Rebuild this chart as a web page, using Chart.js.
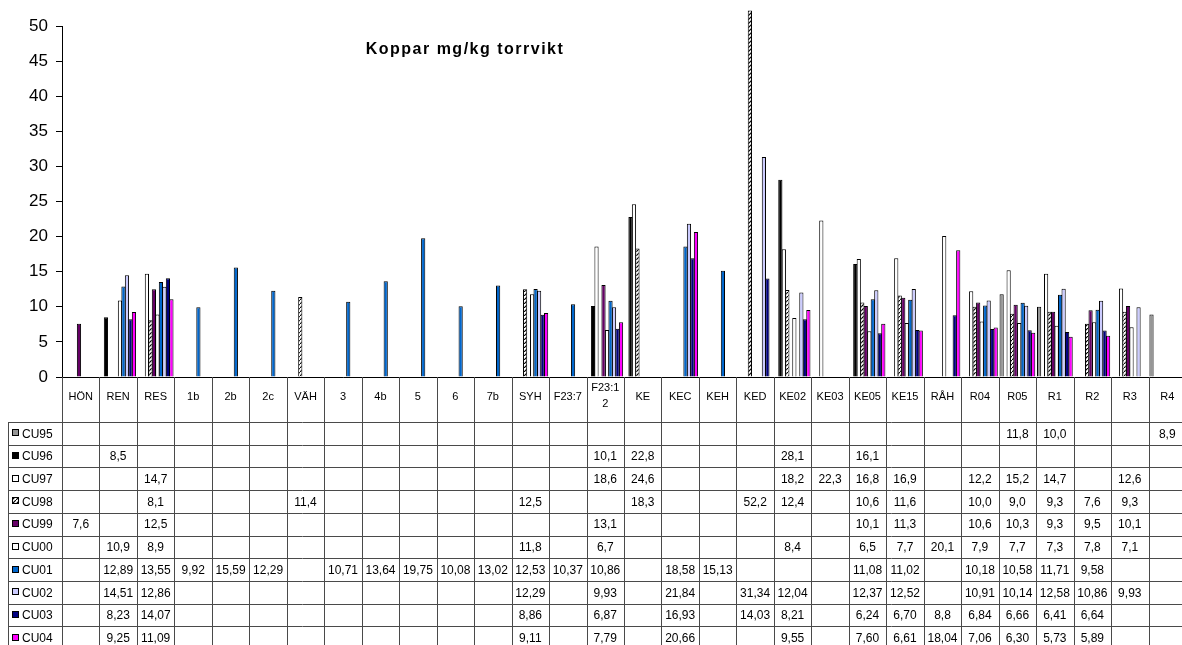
<!DOCTYPE html>
<html>
<head>
<meta charset="utf-8">
<script src="https://cdn.jsdelivr.net/npm/chart.js@4/dist/chart.umd.min.js"></script>
<style>
  html, body { margin: 0; padding: 0; overflow: hidden; background: #fff; }
  #wrap { width: 1186px; height: 645px; }
</style>
</head>
<body>
<div id="wrap"><canvas id="koppar"></canvas></div>
<script>
var _ = null;

// provplatser (kategorier)
var platser = ['HÖN','REN','RES','1b','2b','2c','VÄH','3','4b','5','6','7b','SYH','F23:7','F23:12',
               'KE','KEC','KEH','KED','KE02','KE03','KE05','KE15','RÅH','R04','R05','R1','R2','R3','R4'];

var serieNamn = ['CU95','CU96','CU97','CU98','CU99','CU00','CU01','CU02','CU03','CU04'];

// koppar mg/kg torrvikt, ett värde per plats
var cu95 = [_,_,_,_,_,_,_,_,_,_, _,_,_,_,_,_,_,_,_,_, _,_,_,_,_,11.8,10.0,_,_,8.9];
var cu96 = [_,8.5,_,_,_,_,_,_,_,_, _,_,_,_,10.1,22.8,_,_,_,28.1, _,16.1,_,_,_,_,_,_,_,_];
var cu97 = [_,_,14.7,_,_,_,_,_,_,_, _,_,_,_,18.6,24.6,_,_,_,18.2, 22.3,16.8,16.9,_,12.2,15.2,14.7,_,12.6,_];
var cu98 = [_,_,8.1,_,_,_,11.4,_,_,_, _,_,12.5,_,_,18.3,_,_,52.2,12.4, _,10.6,11.6,_,10.0,9.0,9.3,7.6,9.3,_];
var cu99 = [7.6,_,12.5,_,_,_,_,_,_,_, _,_,_,_,13.1,_,_,_,_,_, _,10.1,11.3,_,10.6,10.3,9.3,9.5,10.1,_];
var cu00 = [_,10.9,8.9,_,_,_,_,_,_,_, _,_,11.8,_,6.7,_,_,_,_,8.4, _,6.5,7.7,20.1,7.9,7.7,7.3,7.8,7.1,_];
var cu01 = [_,12.89,13.55,9.92,15.59,12.29,_,10.71,13.64,19.75, 10.08,13.02,12.53,10.37,10.86,_,18.58,15.13,_,_, _,11.08,11.02,_,10.18,10.58,11.71,9.58,_,_];
var cu02 = [_,14.51,12.86,_,_,_,_,_,_,_, _,_,12.29,_,9.93,_,21.84,_,31.34,12.04, _,12.37,12.52,_,10.91,10.14,12.58,10.86,9.93,_];
var cu03 = [_,8.23,14.07,_,_,_,_,_,_,_, _,_,8.86,_,6.87,_,16.93,_,14.03,8.21, _,6.24,6.70,8.8,6.84,6.66,6.41,6.64,_,_];
var cu04 = [_,9.25,11.09,_,_,_,_,_,_,_, _,_,9.11,_,7.79,_,20.66,_,_,9.55, _,7.60,6.61,18.04,7.06,6.30,5.73,5.89,_,_];

var serier = [cu95, cu96, cu97, cu98, cu99, cu00, cu01, cu02, cu03, cu04];

// antal decimaler i tabellen per serie, plus enstaka undantag
var decimaler = [1,1,1,1,1,1,2,2,2,2];
var undantag = { 'CU03|RÅH': 1 };

var ctx = document.getElementById('koppar').getContext('2d');

function randig() {
  var c = document.createElement('canvas');
  c.width = 4; c.height = 4;
  var g = c.getContext('2d');
  g.fillStyle = '#fff';
  g.fillRect(0, 0, 4, 4);
  g.strokeStyle = '#000';
  g.lineWidth = 1.2;
  g.beginPath(); g.moveTo(-1, 5); g.lineTo(5, -1); g.stroke();
  return ctx.createPattern(c, 'repeat');
}

var farger = ['#969696', '#000000', '#ffffff', randig(), '#660066', '#ffffff',
              '#0066cc', '#ccccff', '#000080', '#ff00ff'];

var FONT = "'Liberation Sans', Arial, sans-serif";

function formatera(v, s, p) {
  var d = undantag[serieNamn[s] + '|' + platser[p]];
  if (d == null) d = decimaler[s];
  return v.toFixed(d).replace('.', ',');
}

// radbryt kategorinamn som inte ryms i cellen
function bryt(c, text, max) {
  if (c.measureText(text).width <= max) return [text];
  var i = text.length - 1;
  while (i > 1 && c.measureText(text.slice(0, i)).width > max) i--;
  return [text.slice(0, i), text.slice(i)];
}

var tabell = {
  id: 'tabell',
  afterDraw: function(chart) {
    var c = chart.ctx;
    var x = chart.scales.x;
    var axel = chart.chartArea.bottom;
    var n = platser.length;
    var bredd = (x.right - x.left) / n;
    var topp = 422;
    var radH = 22.7;
    var vanster = 8;
    var botten = chart.height;

    c.save();

    // rubrik
    c.fillStyle = '#000';
    c.font = 'bold 16px ' + FONT;
    c.textAlign = 'center';
    c.textBaseline = 'middle';
    if ('letterSpacing' in c) c.letterSpacing = '1.5px';
    c.fillText('Koppar mg/kg torrvikt', 465, 50);
    if ('letterSpacing' in c) c.letterSpacing = '0px';

    // linjer
    c.strokeStyle = '#4a4a4a';
    c.lineWidth = 1;
    c.beginPath();
    for (var k = 0; k <= n; k++) {
      var lx = Math.round(x.left + k * bredd) + 0.5;
      c.moveTo(lx, axel);
      c.lineTo(lx, botten);
    }
    c.moveTo(vanster + 0.5, topp);
    c.lineTo(vanster + 0.5, botten);
    for (var r = 0; r <= serier.length; r++) {
      var ly = Math.round(topp + r * radH) + 0.5;
      c.moveTo(vanster, ly);
      c.lineTo(x.right, ly);
    }
    c.stroke();

    // kategorinamn
    c.font = '11px ' + FONT;
    c.textAlign = 'center';
    for (var p = 0; p < n; p++) {
      var cx = x.left + (p + 0.5) * bredd;
      var rader = bryt(c, platser[p], bredd - 6);
      if (rader.length == 1) {
        c.fillText(rader[0], cx, axel + 20);
      } else {
        c.fillText(rader[0], cx, axel + 11);
        c.fillText(rader[1], cx, axel + 27);
      }
    }

    // serienamn med färgnyckel, sedan värden
    for (var s = 0; s < serier.length; s++) {
      var cy = topp + (s + 0.5) * radH;
      c.fillStyle = farger[s];
      c.fillRect(12, Math.round(cy) - 4, 7, 7);
      c.strokeStyle = '#000';
      c.strokeRect(12.5, Math.round(cy) - 3.5, 6, 6);

      c.fillStyle = '#000';
      c.font = '12px ' + FONT;
      c.textAlign = 'left';
      c.fillText(serieNamn[s], 22, cy + 1);

      c.textAlign = 'center';
      for (var q = 0; q < n; q++) {
        var v = serier[s][q];
        if (v == null) continue;
        c.fillText(formatera(v, s, q), x.left + (q + 0.5) * bredd, cy + 1);
      }
    }
    c.restore();
  }
};

new Chart(ctx, {
  type: 'bar',
  data: {
    labels: platser,
    datasets: serier.map(function(d, i) {
      return {
        label: serieNamn[i],
        data: d,
        backgroundColor: farger[i],
        borderColor: '#000',
        borderWidth: 1,
        clip: false
      };
    })
  },
  options: {
    responsive: true,
    maintainAspectRatio: false,
    animation: false,
    layout: { padding: { top: 26, left: 0, right: 0, bottom: 0 } },
    datasets: { bar: { categoryPercentage: 0.935, barPercentage: 1.2 } },
    plugins: {
      legend: { display: false },
      tooltip: { enabled: false },
      title: { display: false }
    },
    scales: {
      x: {
        ticks: { display: false },
        grid: { display: false },
        border: { color: '#000', width: 1 },
        afterFit: function(s) { s.height = 268; }
      },
      y: {
        min: 0,
        max: 50,
        ticks: { stepSize: 5, color: '#000', padding: 8, font: { family: FONT, size: 17 } },
        grid: { drawOnChartArea: false, drawTicks: true, tickLength: 6, color: '#000' },
        border: { color: '#000', width: 1 },
        afterFit: function(s) { s.width = 62; }
      }
    }
  },
  plugins: [tabell]
});
</script>
</body>
</html>
